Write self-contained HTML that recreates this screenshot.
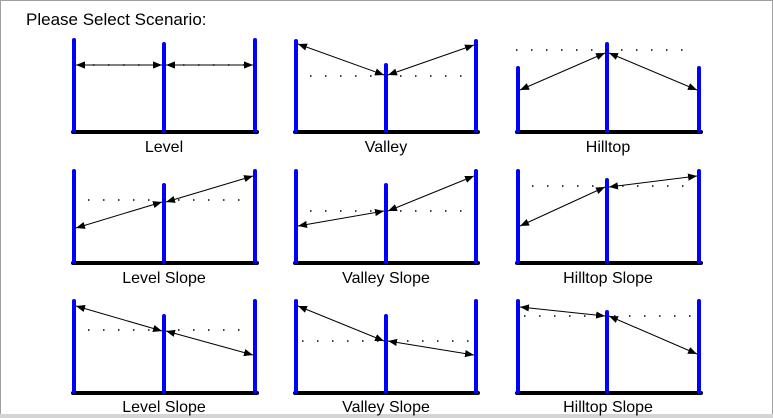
<!DOCTYPE html>
<html><head><meta charset="utf-8"><style>
html,body{margin:0;padding:0;background:#fff;}
svg{display:block;}
text{font-family:"Liberation Sans",Arial,sans-serif;font-size:16px;fill:#000;}
</style></head><body>
<svg width="773" height="418" viewBox="0 0 773 418" xmlns="http://www.w3.org/2000/svg">
<defs>
<marker id="a" viewBox="0 0 10 10" refX="10" refY="5" markerWidth="9" markerHeight="9" markerUnits="userSpaceOnUse" orient="auto-start-reverse"><path d="M0,1 L10,5 L0,9 z" fill="#000"/></marker>
</defs>
<rect x="0.5" y="0.5" width="772" height="417" fill="#fff" stroke="#a0a0a0"/>
<rect x="0" y="414" width="773" height="4" fill="#d4d4d4"/>
<text x="26" y="25" style="font-size:17px">Please Select Scenario:</text>
<g stroke-linecap="round">
<g stroke="#000" stroke-width="4">
<line x1="73" y1="132" x2="257" y2="132"/><line x1="295" y1="132" x2="478" y2="132"/><line x1="517" y1="132" x2="701" y2="132"/>
<line x1="73" y1="263" x2="257" y2="263"/><line x1="295" y1="263" x2="478" y2="263"/><line x1="517" y1="263" x2="701" y2="263"/>
<line x1="73" y1="393" x2="257" y2="393"/><line x1="295" y1="393" x2="478" y2="393"/><line x1="517" y1="393" x2="701" y2="393"/>
</g>
<g stroke="#0000ff" stroke-width="4">
<line x1="74" y1="40" x2="74" y2="131"/><line x1="164" y1="44" x2="164" y2="131"/><line x1="255" y1="40" x2="255" y2="131"/>
<line x1="296" y1="41" x2="296" y2="131"/><line x1="386" y1="65" x2="386" y2="131"/><line x1="476" y1="41" x2="476" y2="131"/>
<line x1="518" y1="68" x2="518" y2="131"/><line x1="607" y1="44" x2="607" y2="131"/><line x1="699" y1="68" x2="699" y2="131"/>
<line x1="74" y1="171" x2="74" y2="262"/><line x1="164" y1="185" x2="164" y2="262"/><line x1="255" y1="171" x2="255" y2="262"/>
<line x1="296" y1="171" x2="296" y2="262"/><line x1="386" y1="185" x2="386" y2="262"/><line x1="476" y1="171" x2="476" y2="262"/>
<line x1="518" y1="171" x2="518" y2="262"/><line x1="607" y1="180" x2="607" y2="262"/><line x1="699" y1="171" x2="699" y2="262"/>
<line x1="74" y1="301" x2="74" y2="392"/><line x1="164" y1="316" x2="164" y2="392"/><line x1="255" y1="301" x2="255" y2="392"/>
<line x1="296" y1="301" x2="296" y2="392"/><line x1="386" y1="316" x2="386" y2="392"/><line x1="476" y1="301" x2="476" y2="392"/>
<line x1="518" y1="301" x2="518" y2="392"/><line x1="607" y1="312" x2="607" y2="392"/><line x1="699" y1="301" x2="699" y2="392"/>
</g>
</g>
<g stroke="#000" stroke-width="1.5" stroke-dasharray="1.5 13.5">
<line x1="78" y1="65" x2="252" y2="65"/>
<line x1="310" y1="76" x2="472" y2="76"/>
<line x1="516" y1="50" x2="694" y2="50"/>
<line x1="88" y1="200" x2="252" y2="200"/>
<line x1="310" y1="211" x2="472" y2="211"/>
<line x1="532" y1="186" x2="694" y2="186"/>
<line x1="88" y1="330" x2="252" y2="330"/>
<line x1="302" y1="341" x2="472" y2="341"/>
<line x1="524" y1="316" x2="694" y2="316"/>
</g>
<g stroke="#000" stroke-width="1" marker-start="url(#a)" marker-end="url(#a)">
<line x1="76" y1="65" x2="162" y2="65"/><line x1="166" y1="65" x2="253" y2="65"/>
<line x1="298" y1="44" x2="384" y2="75"/><line x1="388" y1="75" x2="474" y2="45"/>
<line x1="520" y1="90" x2="605" y2="53"/><line x1="609" y1="53" x2="697" y2="90"/>
<line x1="76" y1="228" x2="162" y2="202"/><line x1="166" y1="202" x2="253" y2="176"/>
<line x1="298" y1="226" x2="384" y2="211"/><line x1="388" y1="211" x2="474" y2="176"/>
<line x1="520" y1="226" x2="605" y2="187"/><line x1="609" y1="187" x2="697" y2="176"/>
<line x1="76" y1="306" x2="162" y2="331"/><line x1="166" y1="331" x2="253" y2="355"/>
<line x1="298" y1="306" x2="384" y2="341"/><line x1="388" y1="341" x2="474" y2="355"/>
<line x1="520" y1="307" x2="605" y2="316"/><line x1="609" y1="316" x2="697" y2="354"/>
</g>
<g text-anchor="middle">
<text x="164" y="152">Level</text><text x="386" y="152">Valley</text><text x="608" y="152">Hilltop</text>
<text x="164" y="283">Level Slope</text><text x="386" y="283">Valley Slope</text><text x="608" y="283">Hilltop Slope</text>
<text x="164" y="412">Level Slope</text><text x="386" y="412">Valley Slope</text><text x="608" y="412">Hilltop Slope</text>
</g>
</svg>
</body></html>
